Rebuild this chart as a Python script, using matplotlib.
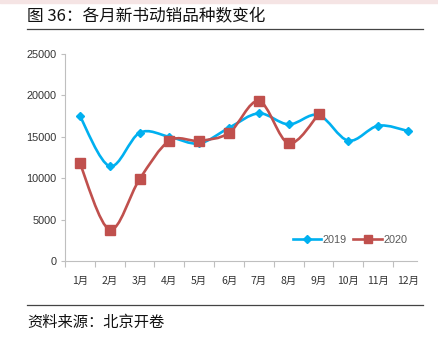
import numpy as np
import matplotlib.pyplot as plt
from matplotlib.path import Path
from matplotlib.patches import PathPatch, Rectangle
from matplotlib.lines import Line2D

plt.rcParams['font.family'] = ['Liberation Sans', 'Noto Sans CJK SC', 'DejaVu Sans']

months = ['1月', '2月', '3月', '4月', '5月', '6月', '7月', '8月', '9月', '10月', '11月', '12月']
sales_2019 = [17500, 11450, 15480, 15000, 14200, 16090, 17830, 16500, 17630, 14530, 16340, 15700]
sales_2020 = [11780, 3790, 9880, 14520, 14520, 15480, 19320, 14210, 17710]

C2019 = '#00b0f0'
C2020 = '#c0504d'


def smooth_path(x, y):
    # Excel-style smoothed line: cubic Bezier with Catmull-Rom control points
    pts = np.column_stack([x, y]).astype(float)
    n = len(pts)
    verts = [pts[0]]
    codes = [Path.MOVETO]
    for i in range(n - 1):
        p0 = pts[i - 1] if i > 0 else pts[i]
        p1 = pts[i]
        p2 = pts[i + 1]
        p3 = pts[i + 2] if i + 2 < n else pts[i + 1]
        c1 = p1 + (p2 - p0) / 6
        c2 = p2 - (p3 - p1) / 6
        verts += [c1, c2, p2]
        codes += [Path.CURVE4] * 3
    return Path(verts, codes)


fig = plt.figure(figsize=(4.38, 3.38), dpi=100)
ax = fig.add_axes([65 / 438, 1 - 261 / 338, 352 / 438, 207 / 338])

for vals, col, mk, ms in [(sales_2019, C2019, 'D', 4.5), (sales_2020, C2020, 's', 6.5)]:
    xs = np.arange(len(vals))
    ax.add_patch(PathPatch(smooth_path(xs, vals), fill=False, edgecolor=col,
                           lw=1.9, capstyle='round', zorder=2))
    ax.plot(xs, vals, ls='none', marker=mk, ms=ms, color=col, zorder=3)

ax.set_xlim(-0.5, 11.3)
ax.set_ylim(0, 25000)
ax.set_yticks(range(0, 25001, 5000))
ax.set_xticks(np.arange(12))
ax.set_xticklabels(months, fontsize=7.5, family=['Noto Sans CJK SC'], color='#333333')
ax.set_xticks(np.arange(-0.5, 11.4, 1), minor=True)
ax.tick_params(axis='x', which='major', length=0, pad=11)
ax.tick_params(axis='x', which='minor', length=4, color='#bfbfbf', width=0.8)
ax.tick_params(axis='y', length=3, color='#bfbfbf', width=0.8, labelsize=7.8,
               labelcolor='#333333', pad=3)

for s in ['top', 'right']:
    ax.spines[s].set_visible(False)
for s in ['left', 'bottom']:
    ax.spines[s].set_color('#bfbfbf')
    ax.spines[s].set_linewidth(0.8)

handles = [Line2D([], [], color=C2019, lw=1.9, marker='D', ms=4),
           Line2D([], [], color=C2020, lw=1.9, marker='s', ms=5.5)]
ax.legend(handles, ['2019', '2020'], loc='lower right', bbox_to_anchor=(1.0, 0.03),
          ncol=2, frameon=False, fontsize=7.8, handlelength=2.6, handletextpad=0.15,
          columnspacing=0.6, labelcolor='#595959')

# header and footer
fig.patches.append(Rectangle((0, 1 - 3 / 338), 1, 3 / 338, transform=fig.transFigure,
                             color='#f5e4e4', zorder=0))
fig.text(27 / 438, 1 - 17 / 338, '图 36：各月新书动销品种数变化', fontsize=12,
         family=['Noto Sans CJK SC'], va='center', ha='left', color='#111111')
fig.add_artist(Line2D([27 / 438, 423 / 438], [1 - 29 / 338] * 2, color='#444444', lw=0.9))
fig.add_artist(Line2D([27 / 438, 423 / 438], [1 - 305 / 338] * 2, color='#444444', lw=0.9))
fig.text(27 / 438, 1 - 322 / 338, '资料来源：北京开卷', fontsize=11,
         family=['Noto Sans CJK SC'], va='center', ha='left', color='#111111')

fig.savefig('out.png', dpi=100)
